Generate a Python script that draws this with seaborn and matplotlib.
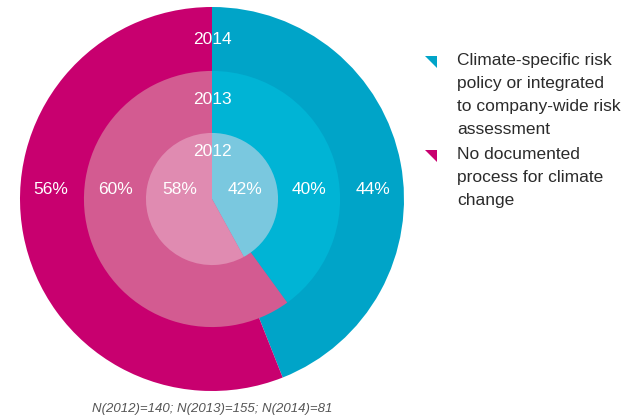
import matplotlib
matplotlib.use("Agg")
import matplotlib.pyplot as plt
import seaborn as sns
from matplotlib.patches import Polygon

sns.set_theme(style="white")
plt.rcParams['font.family'] = ['Liberation Sans', 'DejaVu Sans']

years = ["2012", "2013", "2014"]
categories = ["Climate-specific risk\npolicy or integrated\nto company-wide risk\nassessment",
              "No documented\nprocess for climate\nchange"]
risk_policy = [42, 40, 44]
no_process = [58, 60, 56]
footnote = "N(2012)=140; N(2013)=155; N(2014)=81"

blues = ["#7AC8DF", "#00B4D5", "#00A4C8"]
pinks = ["#E08BB1", "#D35B91", "#C8006F"]
radii = [0.344, 0.667, 1.0]

fig = plt.figure(figsize=(6.31, 4.2), dpi=100)
ax = fig.add_axes([20/631, 29/420, 384/631, 384/420])
ax.set_xlim(-1, 1)
ax.set_ylim(-1, 1)
ax.set_aspect("equal")
ax.axis("off")

# draw from outer to inner so inner rings sit on top
for i in [2, 1, 0]:
    ax.pie([risk_policy[i], no_process[i]], radius=radii[i], startangle=90,
           counterclock=False, colors=[blues[i], pinks[i]],
           wedgeprops=dict(linewidth=0))
ax.set_xlim(-1, 1)
ax.set_ylim(-1, 1)

year_y = [0.25, 0.52, 0.83]
pct_x = [0.17, 0.505, 0.84]
for i in range(3):
    ax.text(0, year_y[i], years[i], ha="center", va="center", color="white", fontsize=12.5)
    ax.text(pct_x[i], 0.05, f"{risk_policy[i]}%", ha="center", va="center", color="white", fontsize=12.5)
    ax.text(-pct_x[i], 0.05, f"{no_process[i]}%", ha="center", va="center", color="white", fontsize=12.5)

# legend
leg_colors = ["#00A4C8", "#C8006F"]
leg_top = [56, 150]
for c, top, lab in zip(leg_colors, leg_top, categories):
    x0, x1 = 425/631, 437/631
    y0, y1 = 1 - top/420, 1 - (top + 12)/420
    fig.patches.append(Polygon([[x0, y0], [x1, y0], [x1, y1]], closed=True,
                               transform=fig.transFigure, facecolor=c, edgecolor="none"))
    fig.text(457/631, 1 - (top - 3)/420, lab, ha="left", va="top", fontsize=12.5,
             color="#2b2b2b", linespacing=1.68)

fig.text(212/631, 1 - 409/420, footnote, ha="center", va="center", fontsize=9.5,
         style="italic", color="#555555")

fig.savefig("out.png", dpi=100, facecolor="white")
